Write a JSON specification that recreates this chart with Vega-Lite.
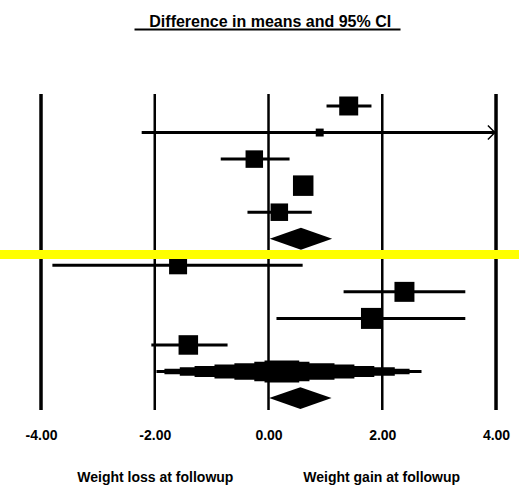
{
  "$schema": "https://vega.github.io/schema/vega-lite/v6.json",
  "width": 519,
  "height": 486,
  "autosize": {"type": "none"},
  "padding": 0,
  "background": "white",
  "config": {"view": {"stroke": null}, "font": "Liberation Sans"},
  "datasets": {
    "grid": [
      {"x": -4, "kind": "outer"},
      {"x": -2, "kind": "inner"},
      {"x": 0, "kind": "inner"},
      {"x": 2, "kind": "inner"},
      {"x": 4, "kind": "outer"}
    ],
    "studies": [
      {"row": 1, "est": 1.41, "lo": 1.02, "hi": 1.81, "weight": 12.0, "arrow": false},
      {"row": 2, "est": 0.90, "lo": -2.23, "hi": 3.98, "weight": 2.1, "arrow": true},
      {"row": 3, "est": -0.25, "lo": -0.84, "hi": 0.37, "weight": 10.2, "arrow": false},
      {"row": 4, "est": 0.61, "lo": 0.50, "hi": 0.72, "weight": 14.0, "arrow": false},
      {"row": 5, "est": 0.19, "lo": -0.37, "hi": 0.76, "weight": 10.2, "arrow": false},
      {"row": 7, "est": -1.59, "lo": -3.80, "hi": 0.60, "weight": 10.8, "arrow": false},
      {"row": 8, "est": 2.39, "lo": 1.32, "hi": 3.46, "weight": 13.3, "arrow": false},
      {"row": 9, "est": 1.81, "lo": 0.14, "hi": 3.46, "weight": 14.7, "arrow": false},
      {"row": 10, "est": -1.41, "lo": -2.06, "hi": -0.72, "weight": 12.7, "arrow": false}
    ],
    "pooled": [
      {"pool": "Subgroup", "row": 6, "est": 0.57, "lo": 0.02, "hi": 1.12},
      {"pool": "Overall", "row": 12, "est": 0.56, "lo": 0.02, "hi": 1.10}
    ],
    "spindle": [
      {"row": 11, "level": 1, "lo": -1.97, "hi": 2.69},
      {"row": 11, "level": 2, "lo": -1.83, "hi": 2.48},
      {"row": 11, "level": 3, "lo": -1.56, "hi": 2.22},
      {"row": 11, "level": 4, "lo": -1.30, "hi": 1.86},
      {"row": 11, "level": 5, "lo": -0.95, "hi": 1.51},
      {"row": 11, "level": 6, "lo": -0.60, "hi": 1.16},
      {"row": 11, "level": 7, "lo": -0.25, "hi": 0.72},
      {"row": 11, "level": 8, "lo": -0.07, "hi": 0.54}
    ],
    "footer": [
      {"label": "Weight loss at followup", "x": -1.99},
      {"label": "Weight gain at followup", "x": 1.99}
    ],
    "heading": [
      {"title": "Difference in means and 95% CI"}
    ]
  },
  "layer": [
    {
      "data": {"name": "grid"},
      "mark": {"type": "rule", "color": "black"},
      "encoding": {
        "x": {
          "field": "x", "type": "quantitative",
          "scale": {"domain": [-4.721, 4.404], "nice": false, "zero": false},
          "axis": {
            "values": [-4, -2, 0, 2, 4],
            "labelExpr": "(datum.value < 0 ? '-' : '') + format(abs(datum.value), '.2f')",
            "orient": "bottom", "offset": -47, "domain": false, "ticks": false, "tickSize": 0,
            "labelPadding": 0, "labelBaseline": "alphabetic", "labelFont": "Liberation Sans",
            "labelFontSize": 14, "labelFontWeight": "bold", "labelColor": "black",
            "grid": false, "title": null, "labelFlush": false, "labelOverlap": false
          }
        },
        "y": {"datum": 0.548, "type": "quantitative", "scale": {"domain": [-2.992, 15.312], "reverse": true, "nice": false, "zero": false}, "axis": null},
        "y2": {"datum": 12.45},
        "strokeWidth": {"field": "kind", "type": "nominal", "scale": {"domain": ["inner", "outer"], "range": [2.5, 3.5]}, "legend": null}
      }
    },
    {
      "data": {"name": "studies"},
      "mark": {"type": "rule", "color": "black", "strokeWidth": 3},
      "encoding": {
        "x": {"field": "lo", "type": "quantitative", "scale": {"domain": [-4.721, 4.404], "nice": false, "zero": false}},
        "x2": {"field": "hi"},
        "y": {"field": "row", "type": "quantitative", "scale": {"domain": [-2.992, 15.312], "reverse": true, "nice": false, "zero": false}}
      }
    },
    {
      "data": {"name": "studies"},
      "mark": {"type": "point", "shape": "square", "filled": true, "color": "black", "opacity": 1},
      "encoding": {
        "x": {"field": "est", "type": "quantitative", "scale": {"domain": [-4.721, 4.404], "nice": false, "zero": false}},
        "y": {"field": "row", "type": "quantitative", "scale": {"domain": [-2.992, 15.312], "reverse": true, "nice": false, "zero": false}},
        "size": {"field": "weight", "type": "quantitative", "scale": {"domain": [0, 100], "range": [0, 3002], "zero": true}, "legend": null}
      }
    },
    {
      "data": {"name": "studies"},
      "transform": [{"filter": "datum.arrow"}],
      "mark": {"type": "point", "shape": "M-1,-1L0,0L-1,1", "filled": false, "color": "black", "strokeWidth": 1.5, "size": 196, "opacity": 1},
      "encoding": {
        "x": {"field": "hi", "type": "quantitative", "scale": {"domain": [-4.721, 4.404], "nice": false, "zero": false}},
        "y": {"field": "row", "type": "quantitative", "scale": {"domain": [-2.992, 15.312], "reverse": true, "nice": false, "zero": false}}
      }
    },
    {
      "data": {"name": "pooled"},
      "mark": {"type": "point", "shape": "M-1,0L0,-0.35L1,0L0,0.35Z", "filled": true, "color": "black", "opacity": 1, "size": 3900, "strokeWidth": 0},
      "encoding": {
        "x": {"field": "est", "type": "quantitative", "scale": {"domain": [-4.721, 4.404], "nice": false, "zero": false}},
        "y": {"field": "row", "type": "quantitative", "scale": {"domain": [-2.992, 15.312], "reverse": true, "nice": false, "zero": false}}
      }
    },
    {
      "data": {"name": "spindle"},
      "mark": {"type": "rule", "color": "black"},
      "encoding": {
        "x": {"field": "lo", "type": "quantitative", "scale": {"domain": [-4.721, 4.404], "nice": false, "zero": false}},
        "x2": {"field": "hi"},
        "y": {"field": "row", "type": "quantitative", "scale": {"domain": [-2.992, 15.312], "reverse": true, "nice": false, "zero": false}},
        "strokeWidth": {"field": "level", "type": "quantitative", "scale": {"domain": [1, 8], "range": [3, 22]}, "legend": null}
      }
    },
    {
      "data": {"name": "heading"},
      "mark": {"type": "text", "fontSize": 16, "fontWeight": "bold", "baseline": "alphabetic", "align": "center", "color": "black", "font": "Liberation Sans"},
      "encoding": {
        "text": {"field": "title"},
        "x": {"datum": 0.03, "type": "quantitative", "scale": {"domain": [-4.721, 4.404], "nice": false, "zero": false}},
        "y": {"datum": -1.975, "type": "quantitative", "scale": {"domain": [-2.992, 15.312], "reverse": true, "nice": false, "zero": false}}
      }
    },
    {
      "data": {"name": "heading"},
      "mark": {"type": "rule", "color": "black", "strokeWidth": 2},
      "encoding": {
        "x": {"datum": -2.356, "type": "quantitative", "scale": {"domain": [-4.721, 4.404], "nice": false, "zero": false}},
        "x2": {"datum": 2.321},
        "y": {"datum": -1.88, "type": "quantitative", "scale": {"domain": [-2.992, 15.312], "reverse": true, "nice": false, "zero": false}}
      }
    },
    {
      "data": {"name": "footer"},
      "mark": {"type": "text", "fontSize": 14, "fontWeight": "bold", "baseline": "alphabetic", "align": "center", "color": "black", "font": "Liberation Sans"},
      "encoding": {
        "text": {"field": "label"},
        "x": {"field": "x", "type": "quantitative", "scale": {"domain": [-4.721, 4.404], "nice": false, "zero": false}},
        "y": {"datum": 15.16, "type": "quantitative", "scale": {"domain": [-2.992, 15.312], "reverse": true, "nice": false, "zero": false}}
      }
    },
    {
      "data": {"values": [{"band": "highlight"}]},
      "mark": {"type": "rule", "color": "#ffff00", "strokeWidth": 9},
      "encoding": {
        "x": {"datum": -4.721, "type": "quantitative", "scale": {"domain": [-4.721, 4.404], "nice": false, "zero": false}},
        "x2": {"datum": 4.404},
        "y": {"datum": 6.593, "type": "quantitative", "scale": {"domain": [-2.992, 15.312], "reverse": true, "nice": false, "zero": false}}
      }
    }
  ]
}
